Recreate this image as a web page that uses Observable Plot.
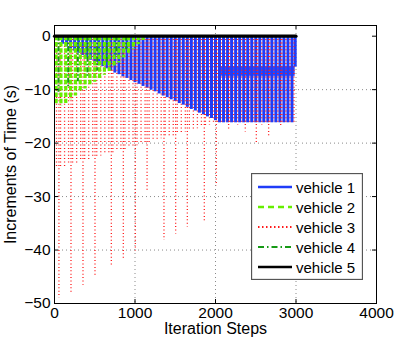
<!DOCTYPE html>
<html>
<head>
<meta charset="utf-8">
<script src="https://cdn.jsdelivr.net/npm/d3@7"></script>
<script src="https://cdn.jsdelivr.net/npm/@observablehq/plot@0.6"></script>
<style>
html,body{margin:0;padding:0;background:#fff;}
#wrap{position:relative;width:415px;height:343px;font-family:"Liberation Sans",Arial,Helvetica,sans-serif;}
#legend{position:absolute;left:251px;top:173px;}
</style>
</head>
<body>
<div id="wrap"><div id="chart"></div><div id="legend"></div></div>
<script>
// ---------------- data ----------------
const xTicks = [0, 1000, 2000, 3000, 4000];
const yTicks = [-50, -40, -30, -20, -10, 0];
const xTitle = "Iteration Steps";
const yTitle = "Increments of Time (s)";
const vehicleNames = ["vehicle 1", "vehicle 2", "vehicle 3", "vehicle 4", "vehicle 5"];

// vehicle 1 (blue): spikes from 0 down to depth
const v1Steps = [100,150,200,250,300,350,400,450,500,550,600,650,700,750,800,850,900,950,1000,1050,1100,1150,1200,1250,1300,1350,1400,1450,1500,1550,1600,1650,1700,1750,1800,1850,1900,1950,2000,2050,2100,2150,2200,2250,2300,2350,2400,2450,2500,2550,2600,2650,2700,2750,2800,2850,2900,2950,2990];
const v1Depths = [-1.5,-2.0,-2.4,-2.8,-3.2,-3.6,-4.0,-4.5,-4.9,-5.3,-5.7,-6.1,-6.5,-6.9,-7.2,-7.6,-7.9,-8.3,-8.7,-9.0,-9.4,-9.7,-10.1,-10.4,-10.8,-11.2,-11.5,-11.9,-12.2,-12.6,-12.9,-13.3,-13.7,-14.0,-14.4,-14.7,-15.1,-15.4,-15.8,-16.2,-16.2,-16.2,-16.2,-16.2,-16.2,-16.2,-16.2,-16.2,-16.2,-16.2,-16.2,-16.2,-16.2,-16.2,-16.2,-16.2,-16.2,-16.2,-5.8];
// vehicle 1 plateau band (steps 2040-2990, values -5.7 to -7.5)
const v1BandSteps = [2040, 2990];
const v1BandValues = [-5.7, -7.5];

// vehicle 2 (light green dashed)
const v2Steps = [20,80,140,200,260,320,380,440,500,560,620,680,740,800,860,920,980,1040,1100];
const v2Depths = [-12.8,-13.0,-12.6,-11.9,-11.2,-10.6,-9.9,-9.3,-8.6,-7.9,-7.3,-6.6,-5.8,-5.0,-4.1,-3.3,-2.5,-1.6,-0.8];

// vehicle 3 (red dotted): regular spikes
const v3Steps = [25,75,125,175,225,275,325,375,425,475,525,575,625,675,725,775,825,875,925,975,1025,1075,1125,1175,1225,1275,1325,1375,1425,1475,1525,1575,1625,1675,1725,1775,1825,1875,1925,1975,2025,2075,2125,2175,2225,2275,2325,2375,2425,2475,2525,2575,2625,2675,2725,2775,2825,2875,2925,2975];
const v3Depths = [-24.8,-24.6,-24.4,-24.2,-23.9,-23.7,-23.5,-23.3,-23.1,-22.9,-22.7,-22.4,-22.2,-22.0,-21.8,-21.6,-21.4,-21.2,-20.9,-20.7,-20.5,-20.3,-20.1,-19.9,-19.6,-19.4,-19.2,-19.0,-18.8,-18.6,-18.4,-18.1,-17.9,-17.7,-17.5,-17.3,-17.1,-16.9,-16.6,-16.4,-16.2,-16.5,-16.0,-16.4,-16.1,-16.6,-16.2,-16.0,-16.5,-16.3,-16.1,-16.6,-16.2,-16.4,-16.0,-16.5,-16.3,-16.1,-16.4,-16.2];
// vehicle 3: deep spikes
const v3DeepSteps = [55,205,354,503,706,855,1004,1150,1360,1505,1650,1861,2010,2163,2370,2507,2660,2810];
const v3DeepDepths = [-49.0,-47.9,-46.6,-45.1,-43.1,-41.8,-40.2,-29.1,-38.2,-37.0,-35.7,-34.7,-28.0,-17.6,-17.9,-20.2,-18.9,-16.9];

// vehicle 4 (dark green dash-dot)
const v4Steps = [50,170,290,410,530,650,770,890];
const v4Depths = [-10.5,-9.5,-8.5,-7.5,-6.5,-5.2,-4.0,-2.5];

// vehicle 5 (black): flat at zero
const v5Steps = [0, 3000];
const v5Values = [0, 0];

// ---------------- styles ----------------
const colors = ["#1f3cf8", "#66ee00", "#ff1a1a", "#169a16", "#000000"];
const font = '"Liberation Sans", Arial, Helvetica, sans-serif';
const fmt = d => d < 0 ? "\u2212" + Math.abs(d) : String(d);

const pairs = (xs, ys) => xs.map((x, i) => ({x, y: ys[i]}));
const v1 = pairs(v1Steps, v1Depths);
const v2 = pairs(v2Steps, v2Depths);
const v3 = pairs(v3Steps, v3Depths).concat(pairs(v3DeepSteps, v3DeepDepths));
const v4 = pairs(v4Steps, v4Depths);
const v5 = pairs(v5Steps, v5Values);
const band = [{x1: v1BandSteps[0], x2: v1BandSteps[1], y1: v1BandValues[0], y2: v1BandValues[1]}];

const chart = Plot.plot({
  width: 415, height: 343,
  marginLeft: 54, marginRight: 39, marginTop: 25, marginBottom: 40,
  style: {fontFamily: font, fontSize: "15px", color: "black", background: "white"},
  x: {domain: [0, 4000], axis: null},
  y: {domain: [-50, 2], axis: null},
  marks: [
    Plot.gridX([1000, 2000, 3000], {stroke: "#8a8a8a", strokeOpacity: 1, strokeDasharray: "1,3", strokeWidth: 1}),
    Plot.gridY([-40, -30, -20, -10], {stroke: "#8a8a8a", strokeOpacity: 1, strokeDasharray: "1,3", strokeWidth: 1}),
    Plot.ruleX(v1, {x: "x", y1: 0, y2: "y", stroke: colors[0], strokeWidth: 3}),
    Plot.rect(band, {x1: "x1", x2: "x2", y1: "y1", y2: "y2", fill: colors[0], fillOpacity: 0.9}),
    Plot.ruleX(v3, {x: "x", y1: 0, y2: "y", stroke: colors[2], strokeWidth: 1.3, strokeDasharray: "1,2.4"}),
    Plot.ruleX(v2, {x: "x", y1: 0, y2: "y", stroke: colors[1], strokeWidth: 3.2, strokeDasharray: "4.5,1.8"}),
    Plot.ruleX(v4, {x: "x", y1: 0, y2: "y", stroke: colors[3], strokeWidth: 2, strokeDasharray: "5,2,1.5,2"}),
    Plot.line(v5, {x: "x", y: "y", stroke: colors[4], strokeWidth: 3.2}),
    Plot.frame({stroke: "black", strokeWidth: 1}),
    // inward tick marks on all four sides
    Plot.tickX(xTicks, {x: d => d, insetTop: 274, stroke: "black"}),
    Plot.tickX(xTicks, {x: d => d, insetBottom: 274, stroke: "black"}),
    Plot.tickY(yTicks, {y: d => d, insetRight: 318, stroke: "black"}),
    Plot.tickY(yTicks, {y: d => d, insetLeft: 318, stroke: "black"}),
    // tick labels
    Plot.text(xTicks, {x: d => d, frameAnchor: "bottom", dy: 14, text: fmt, fontSize: 15.5, fill: "black"}),
    Plot.text(yTicks, {y: d => d, frameAnchor: "left", dx: -4, textAnchor: "end", text: fmt, fontSize: 15.5, fill: "black"}),
    // axis titles
    Plot.text([xTitle], {frameAnchor: "bottom", dy: 30, text: d => d, fontSize: 16, fill: "black"}),
    Plot.text([yTitle], {frameAnchor: "left", dx: -44, rotate: -90, textAnchor: "middle", text: d => d, fontSize: 16, fill: "black"})
  ]
});
document.getElementById("chart").appendChild(chart);

// ---------------- legend (inside the plot, lower right) ----------------
const dashes = [null, "6,4", "1.5,2.5", "6,3,1.5,3", null];
const widths = [2.5, 2.5, 2, 2, 2.5];
const lw = 112, lh = 107, rowH = 20;
let s = `<svg width="${lw}" height="${lh}" xmlns="http://www.w3.org/2000/svg" style="font-family:${font.replace(/"/g, "'")};font-size:15px">`;
s += `<rect x="0.5" y="0.5" width="${lw - 1}" height="${lh - 1}" fill="white" stroke="#555" stroke-width="1.3"/>`;
vehicleNames.forEach((name, i) => {
  const cy = 14 + i * rowH;
  s += `<line x1="7" x2="41" y1="${cy}" y2="${cy}" stroke="${colors[i]}" stroke-width="${widths[i]}"${dashes[i] ? ` stroke-dasharray="${dashes[i]}"` : ""}/>`;
  s += `<text x="45" y="${cy + 5.5}" fill="black">${name}</text>`;
});
s += `</svg>`;
document.getElementById("legend").innerHTML = s;
</script>
</body>
</html>
